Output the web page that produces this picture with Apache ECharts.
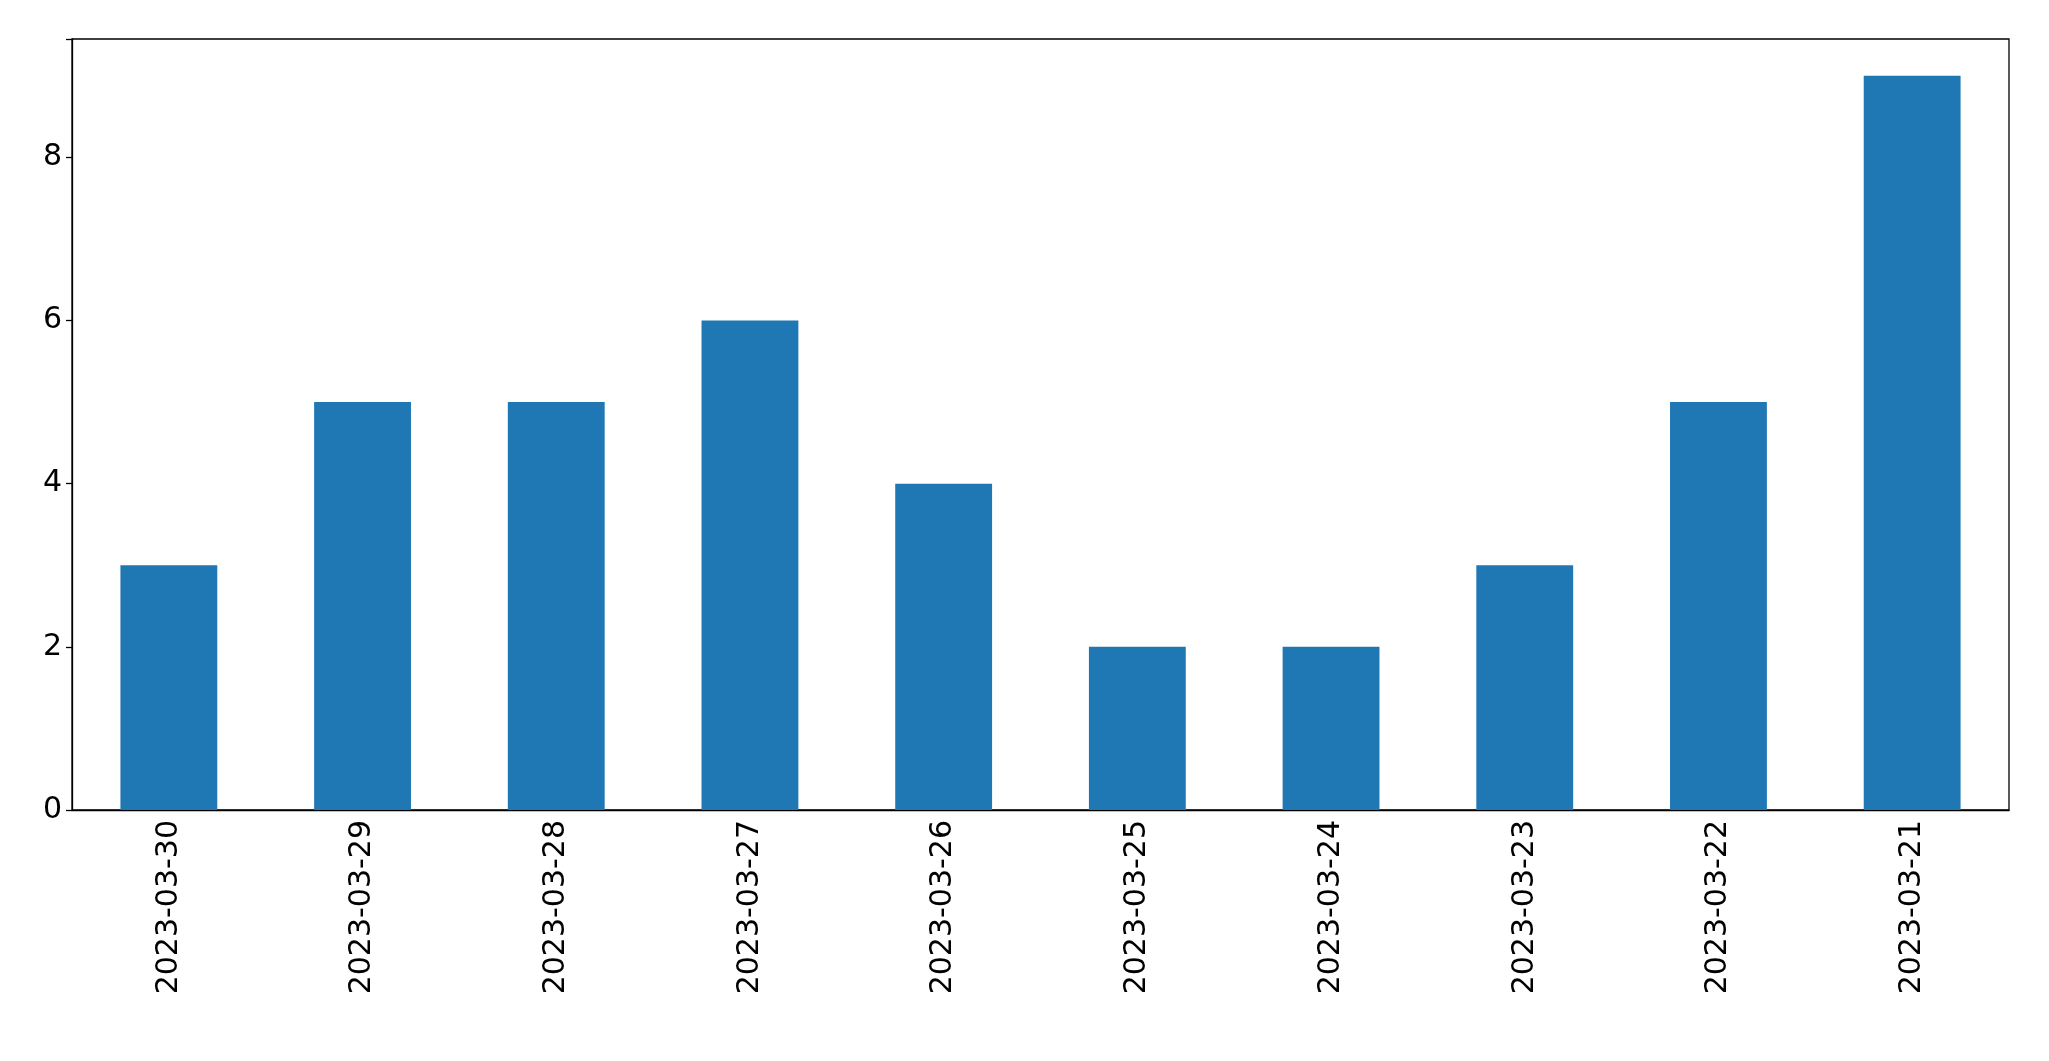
<!DOCTYPE html>
<html>
<head>
<meta charset="utf-8">
<script src="https://cdn.jsdelivr.net/npm/echarts@6/dist/echarts.min.js"></script>
<style>html,body{margin:0;padding:0;background:#fff}#chart{width:2049px;height:1061px}</style>
</head>
<body>
<div id="chart"></div>
<script>
var categories = ['2023-03-30', '2023-03-29', '2023-03-28', '2023-03-27', '2023-03-26',
    '2023-03-25', '2023-03-24', '2023-03-23', '2023-03-22', '2023-03-21'];
var counts = [3, 5, 5, 6, 4, 2, 2, 3, 5, 9];
var yTicks = [0, 2, 4, 6, 8];

var chart = echarts.init(document.getElementById('chart'));
var font = {fontFamily: 'DejaVu Sans', fontSize: 30, color: '#000'};
chart.setOption({
    animation: false,
    grid: {left: 72, right: 40, top: 39, bottom: 251, show: true, borderColor: '#000', borderWidth: 1.3},
    xAxis: {
        type: 'category',
        data: categories,
        axisLine: {lineStyle: {color: '#000', width: 1.3}},
        axisTick: {alignWithLabel: true, length: 6, lineStyle: {color: '#000', width: 1.3}},
        axisLabel: Object.assign({rotate: 90, margin: 10, interval: 0}, font)
    },
    yAxis: {
        type: 'value',
        min: 0,
        max: 9.45,
        interval: 2,
        splitLine: {show: false},
        axisLine: {show: true, lineStyle: {color: '#000', width: 1.3}},
        axisTick: {show: true, length: 6, lineStyle: {color: '#000', width: 1.3}},
        axisLabel: Object.assign({
            margin: 10,
            formatter: function (v) { return yTicks.indexOf(v) >= 0 ? String(v) : ''; }
        }, font)
    },
    series: [{
        type: 'bar',
        data: counts,
        barCategoryGap: '50%',
        itemStyle: {color: '#1f77b4'}
    }]
});
</script>
</body>
</html>
